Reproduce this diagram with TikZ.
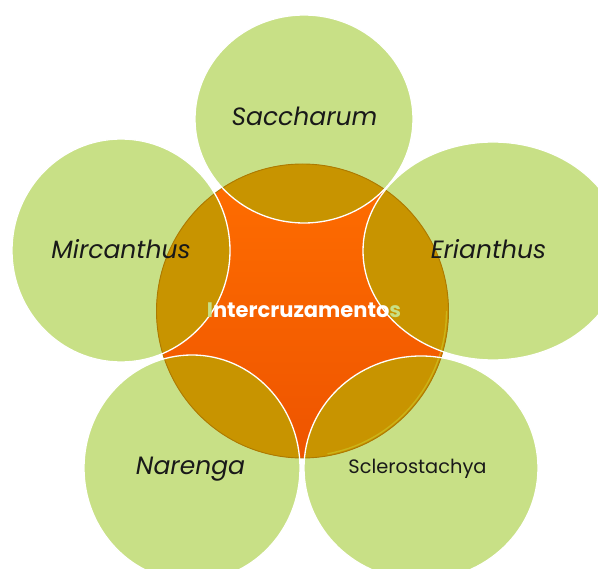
\documentclass[tikz,border=0pt]{standalone}
\usepackage{fontspec}
\setmainfont{Poppins}
\definecolor{lgreen}{RGB}{200,224,134}
\definecolor{gold}{RGB}{200,148,0}
\definecolor{goldRim}{RGB}{172,122,0}
\definecolor{orT}{RGB}{255,110,0}
\definecolor{orB}{RGB}{238,84,0}
\definecolor{hilite}{RGB}{205,200,40}
\definecolor{txt}{RGB}{25,25,25}
\begin{document}
\begin{tikzpicture}[x=1pt,y=-1pt,
  petal/.style={fill=lgreen},
  overlap/.style={fill=gold},
  petaledge/.style={draw=white, line width=1.3pt},
  lab/.style={font=\fontsize{25}{25}\selectfont\itshape, text=txt, inner sep=0pt, anchor=base},
  labsmall/.style={font=\fontsize{19.4}{19.4}\selectfont, text=txt, inner sep=0pt, anchor=base},
  centerlab/.style={font=\fontsize{21}{21}\selectfont\bfseries, text=white, inner sep=0pt, anchor=base}]
\useasboundingbox (0,0) rectangle (598,569);
\fill[white] (0,0) rectangle (598,569);
% outer petals
\foreach \cx/\cy/\rx/\ry in {304/119/109/104, 493/251/130/109, 121/250.5/109/111.5, 192/468/108/113, 421/468/117/112}
  \fill[petal] (\cx,\cy) ellipse [x radius=\rx, y radius=\ry];
% central circle
\shade[top color=orT, bottom color=orB] (302.5,311) ellipse [x radius=146, y radius=147];
% overlaps
\begin{scope}
  \clip (302.5,311) ellipse [x radius=146, y radius=147];
  \foreach \cx/\cy/\rx/\ry in {304/119/109/104, 493/251/130/109, 121/250.5/109/111.5, 192/468/108/113, 421/468/117/112}
    \fill[overlap] (\cx,\cy) ellipse [x radius=\rx, y radius=\ry];
\end{scope}
\draw[goldRim, line width=0.9pt] (302.5,311) ellipse [x radius=146, y radius=147];
\draw[hilite, line width=1.4pt, opacity=0.6]
  (302.5,311) ++(0:144) arc [start angle=0, end angle=80, x radius=144, y radius=145];
% white petal outlines
\foreach \cx/\cy/\rx/\ry in {304/119/109/104, 493/251/130/109, 121/250.5/109/111.5, 192/468/108/113, 421/468/117/112}
  \draw[petaledge] (\cx,\cy) ellipse [x radius=\rx, y radius=\ry];
% labels
\node[lab] (sac) at (304.5,126) {Saccharum};
\node[lab] (mir) at (121,259) {Mircanthus};
\node[lab] (eri) at (488.5,259) {Erianthus};
\node[lab] (nar) at (190.5,475) {Narenga};
\node[labsmall] (scl) at (417.5,474) {Sclerostachya};
\node[centerlab] (int) at (304,318) {\textcolor{lgreen}{I}ntercruzamento\textcolor{lgreen}{s}};
\end{tikzpicture}
\end{document}
